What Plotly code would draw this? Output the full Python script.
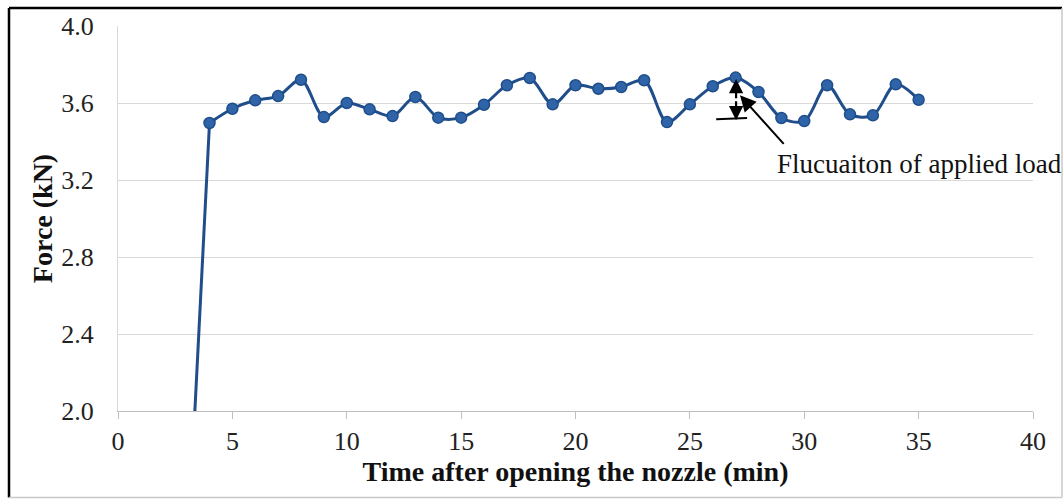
import plotly.graph_objects as go

# ---- data ----
time_min = [3, 4, 5, 6, 7, 8, 9, 10, 11, 12, 13, 14, 15, 16, 17, 18, 19, 20,
            21, 22, 23, 24, 25, 26, 27, 28, 29, 30, 31, 32, 33, 34, 35]
force_kn = [1.16, 3.496, 3.570, 3.614, 3.636, 3.721, 3.527, 3.600, 3.567, 3.532,
            3.631, 3.524, 3.524, 3.591, 3.692, 3.730, 3.593, 3.692, 3.674,
            3.683, 3.718, 3.501, 3.593, 3.687, 3.732, 3.657, 3.522, 3.506,
            3.692, 3.541, 3.536, 3.697, 3.617]
x_ticks = [0, 5, 10, 15, 20, 25, 30, 35, 40]
y_ticks = [2.0, 2.4, 2.8, 3.2, 3.6, 4.0]
note_text = "Flucuaiton of applied load"

W, H = 1064, 500
ML, MR, MT, MB = 118, 31, 24, 89
PW, PH = W - ML - MR, H - MT - MB

def px(x):  # pixel -> paper x
    return (x - ML) / PW

def py(y):  # pixel -> paper y
    return 1 - (y - MT) / PH

SERIF = "Liberation Serif"
LINE_C = "#1F4E8A"

fig = go.Figure()
# initial rise (first recorded point lies below the visible range)
fig.add_trace(go.Scatter(
    x=time_min[:2], y=force_kn[:2], mode="lines",
    line=dict(color=LINE_C, width=3), showlegend=False, hoverinfo="skip",
))
fig.add_trace(go.Scatter(
    x=time_min[1:], y=force_kn[1:], mode="lines+markers",
    line=dict(color=LINE_C, width=3, shape="spline", smoothing=0.9),
    marker=dict(size=11, color="#2F65A8", line=dict(color=LINE_C, width=1.5)),
    showlegend=False,
))

fig.update_layout(
    width=W, height=H,
    margin=dict(l=ML, r=MR, t=MT, b=MB),
    paper_bgcolor="white", plot_bgcolor="white",
    font=dict(family=SERIF, size=26, color="#222222"),
    xaxis=dict(
        range=[0, 40], tickvals=x_ticks, ticktext=[str(v) for v in x_ticks],
        showgrid=False, zeroline=False,
        showline=True, linecolor="#BFBFBF", linewidth=1.2,
        ticks="outside", ticklen=7, tickcolor="#BFBFBF", tickwidth=1.2,
        tickfont=dict(family=SERIF, size=26, color="#222222"),
        ticklabelstandoff=0,
        title=dict(text="<b>Time after opening the nozzle (min)</b>",
                   font=dict(family=SERIF, size=28, color="#111111"), standoff=6),
    ),
    yaxis=dict(
        range=[2.0, 4.0], tickvals=y_ticks, ticktext=[f"{v:.1f}" for v in y_ticks],
        showgrid=True, gridcolor="#D9D9D9", gridwidth=1.2, zeroline=False,
        showline=True, linecolor="#D9D9D9", linewidth=1.2,
        ticks="", tickfont=dict(family=SERIF, size=26, color="#222222"),
        ticklabelstandoff=18,
        title=dict(text="<b>Force (kN)</b>",
                   font=dict(family=SERIF, size=28, color="#111111"), standoff=0),
    ),
)

# fluctuation double arrow at t = 27
x_arrow, y_top, y_bot = 27.02, 3.725, 3.51
y_mid = (y_top + y_bot) / 2
for y_end in (y_top, y_bot):
    fig.add_annotation(x=x_arrow, y=y_end, ax=x_arrow, ay=y_mid,
                       xref="x", yref="y", axref="x", ayref="y",
                       showarrow=True, arrowhead=2, arrowsize=1.3, arrowwidth=2.2,
                       arrowcolor="black", text="")
fig.add_shape(type="line", xref="x", yref="y", x0=26.15, y0=3.516, x1=27.5, y1=3.522,
              line=dict(color="black", width=2))

# pointer arrow and label
fig.add_annotation(x=27.19, y=3.64, ax=29.16, ay=3.38,
                   xref="x", yref="y", axref="x", ayref="y",
                   showarrow=True, arrowhead=2, arrowsize=1.6, arrowwidth=2,
                   arrowcolor="black", text="")
fig.add_annotation(x=28.72, y=3.283, xref="x", yref="y", xanchor="left", yanchor="middle",
                   showarrow=False, text=note_text,
                   font=dict(family=SERIF, size=27, color="#111111"))

# outer frame
fig.add_shape(type="line", xref="paper", yref="paper", x0=px(9), y0=py(6), x1=px(9), y1=py(498),
              line=dict(color="black", width=2.5))
fig.add_shape(type="line", xref="paper", yref="paper", x0=px(9), y0=py(6), x1=px(1062), y1=py(6),
              line=dict(color="black", width=2.5))
fig.add_shape(type="line", xref="paper", yref="paper", x0=px(1062), y0=py(6), x1=px(1062), y1=py(498),
              line=dict(color="#C8C8C8", width=1.5))
fig.add_shape(type="line", xref="paper", yref="paper", x0=px(9), y0=py(498), x1=px(1062), y1=py(498),
              line=dict(color="#C8C8C8", width=1.5))

fig.write_html("out.html")
